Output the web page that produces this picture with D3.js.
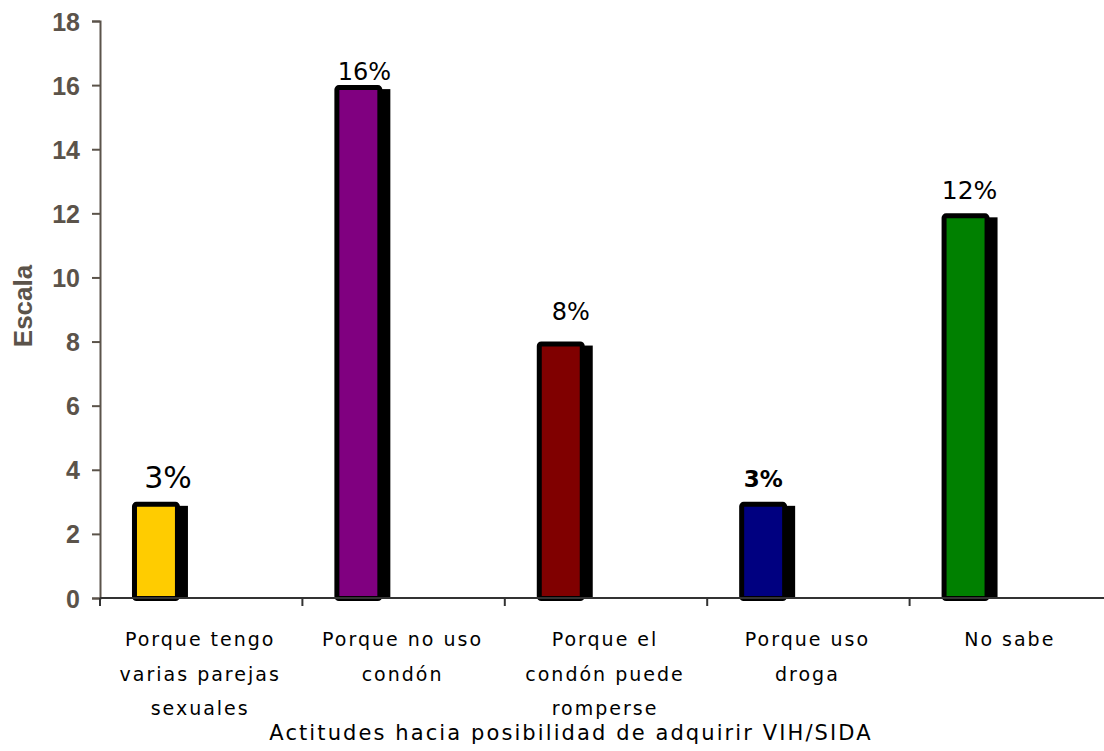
<!DOCTYPE html>
<html><head><meta charset="utf-8">
<script src="https://cdn.jsdelivr.net/npm/d3@7"></script>
<style>body{margin:0;background:#fff}svg{display:block}</style>
</head><body>
<svg id="c" width="1104" height="751"></svg>
<script>
const categories = [
  ["Porque tengo","varias parejas","sexuales"],
  ["Porque no uso","condón"],
  ["Porque el","condón puede","romperse"],
  ["Porque uso","droga"],
  ["No sabe"]
];
const values = [3, 16, 8, 3, 12];
const valueLabels = ["3%", "16%", "8%", "3%", "12%"];
const colors = ["#FFCC00", "#800080", "#800000", "#000080", "#008000"];
const yTicks = [0, 2, 4, 6, 8, 10, 12, 14, 16, 18];
const labelStyle = [
  {size: 30, weight: 400, dx: 12, dy: -14},
  {size: 24, weight: 400, dx: 6, dy: -5},
  {size: 24, weight: 400, dx: 10, dy: -22},
  {size: 23, weight: 700, dx: 0, dy: -15},
  {size: 25, weight: 400, dx: 4, dy: -14}
];

const svg = d3.select("#c");
const x = d3.scaleBand().domain(d3.range(categories.length)).range([100, 1112]).padding(0);
const y = d3.scaleLinear().domain([0, 18]).range([598, 21]);
const bw = x.bandwidth();
const barOff = bw * 0.158, barW = bw * 0.237;

// y axis
const yAxis = svg.append("g").attr("transform", "translate(100,0)")
  .attr("font-size", 25).attr("font-family", "Liberation Sans, Arial, sans-serif")
  .call(d3.axisLeft(y).tickValues(yTicks).tickSize(8).tickPadding(12));
yAxis.attr("font-size", 25).attr("font-family", "Liberation Sans, Arial, sans-serif").attr("font-weight", "bold");
yAxis.select(".domain").attr("stroke", "#5b534a").attr("stroke-width", 2);
yAxis.selectAll(".tick line").attr("stroke", "#5b534a").attr("stroke-width", 2);
yAxis.selectAll(".tick text").attr("fill", "#5b534a").attr("dy", "0.36em")
  .style("font-size", "25px").style("font-weight", "bold");

// bars: shadow then bar
const g = svg.append("g");
values.forEach((v, i) => {
  const x0 = x(i) + barOff;
  g.append("rect").attr("x", x0 + 8).attr("y", y(v) + 4)
    .attr("width", barW).attr("height", y(0) - y(v) - 3).attr("fill", "#000");
  g.append("rect").attr("x", x0 + 2.5).attr("y", y(v) + 2.5)
    .attr("width", barW - 5).attr("height", y(0) - y(v) - 2)
    .attr("rx", 2).attr("fill", colors[i]).attr("stroke", "#000").attr("stroke-width", 5);
  const s = labelStyle[i];
  g.append("text").attr("x", x0 + barW / 2 + s.dx).attr("y", y(v) + s.dy)
    .attr("text-anchor", "middle").attr("fill", "#000")
    .style("font-family", "DejaVu Sans, Verdana, sans-serif")
    .style("font-size", s.size + "px").style("font-weight", s.weight)
    .text(valueLabels[i]);
});

// x axis
const xAxis = svg.append("g").attr("transform", "translate(0,598)");
xAxis.append("line").attr("x1", 100).attr("x2", 1112).attr("y1", 0).attr("y2", 0)
  .attr("stroke", "#333").attr("stroke-width", 2);
d3.range(categories.length + 1).forEach(i => {
  const xx = i < categories.length ? x(i) : x(categories.length - 1) + bw;
  xAxis.append("line").attr("x1", xx).attr("x2", xx).attr("y1", 0).attr("y2", 8)
    .attr("stroke", "#333").attr("stroke-width", 2);
});
categories.forEach((lines, i) => {
  const t = svg.append("text").attr("text-anchor", "middle")
    .style("font-family", "DejaVu Sans, Verdana, sans-serif").style("font-size", "19px")
    .style("letter-spacing", "2px").attr("fill", "#000");
  lines.forEach((ln, j) => {
    t.append("tspan").attr("x", x(i) + bw / 2 - 1).attr("y", 646 + j * 34.5).text(ln);
  });
});

// titles
svg.append("text").attr("x", 571).attr("y", 740).attr("text-anchor", "middle")
  .style("font-family", "DejaVu Sans, Verdana, sans-serif").style("font-size", "21px")
  .style("letter-spacing", "2.1px").text("Actitudes hacia posibilidad de adquirir VIH/SIDA");
svg.append("text").attr("transform", "translate(32,306) rotate(-90)").attr("text-anchor", "middle")
  .attr("fill", "#5b534a").style("font-family", "Liberation Sans, Arial, sans-serif")
  .style("font-size", "26px").style("font-weight", "bold").text("Escala");
</script>
</body></html>
